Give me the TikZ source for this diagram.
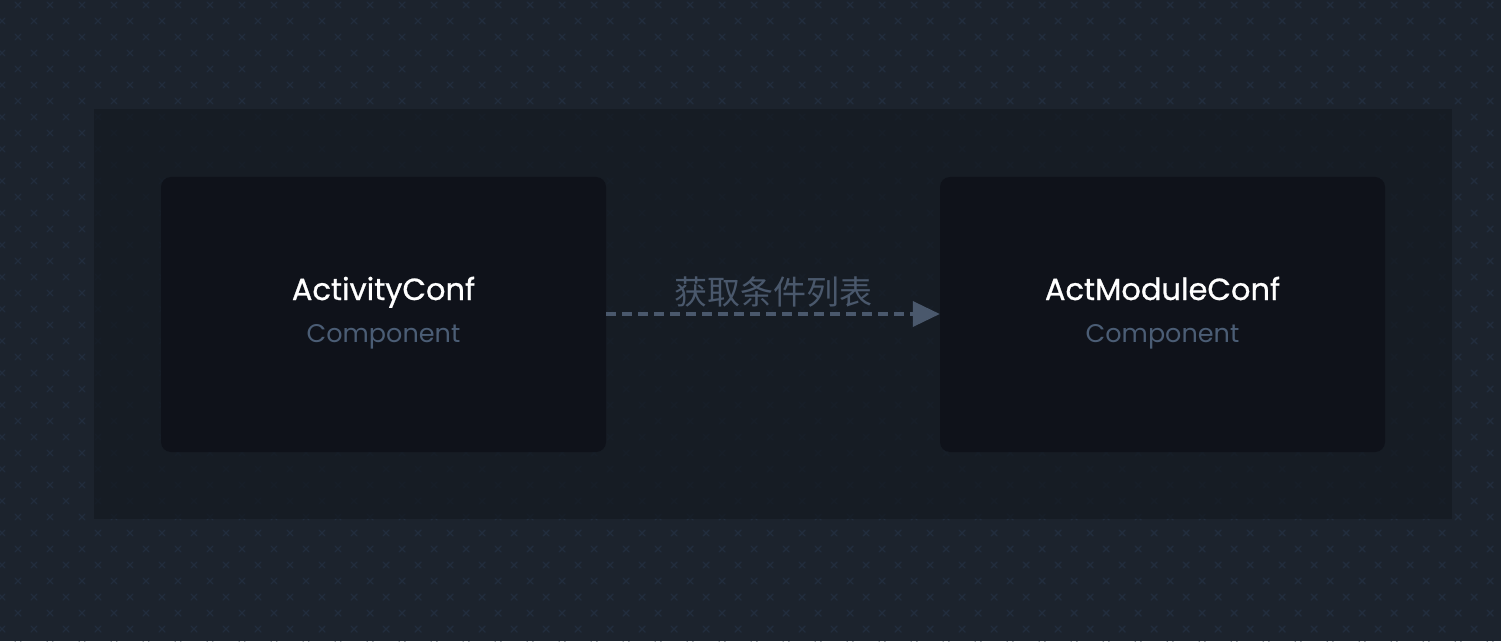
\documentclass[tikz,border=0pt]{standalone}
\usepackage{fontspec}
\setmainfont{Poppins}
\newfontfamily\cjk{Noto Sans CJK SC}
\newfontfamily\titlefont[FakeBold=0.8]{Poppins}
\usetikzlibrary{arrows.meta}
\definecolor{bgc}{HTML}{1C232D}
\definecolor{panelc}{HTML}{141A22}
\definecolor{boxc}{HTML}{0F121A}
\definecolor{markc}{HTML}{222D3D}
\definecolor{subc}{HTML}{4B5D75}
\definecolor{edgec}{HTML}{4A586C}
\tikzset{
  xmark/.style={draw=markc, line width=1.4pt, line cap=round},
  compbox/.style={fill=boxc, rounded corners=10pt, minimum width=445pt, minimum height=275pt, inner sep=0pt},
  titletext/.style={text=white, anchor=base, inner sep=0pt, font=\titlefont\fontsize{30.5}{35}\selectfont},
  subtext/.style={text=subc, anchor=base, inner sep=0pt, font=\fontsize{25.5}{29}\selectfont},
  flow/.style={draw=edgec, line width=3.5pt, dash pattern=on 10pt off 6pt, -{Triangle[length=27pt,width=25pt]}},
  flowlabel/.style={text=edgec, anchor=base, inner sep=0pt, font=\cjk\fontsize{33}{37}\selectfont}
}
\begin{document}
\begin{tikzpicture}[x=1pt,y=1pt]
\fill[bgc] (0,0) rectangle (1501,641);
\useasboundingbox (0,0) rectangle (1501,641);
% pattern
\foreach \k in {0,...,40} {
  \pgfmathtruncatemacro{\off}{mod(\k,2)==0 ? 18 : 2}
  \pgfmathsetmacro{\yy}{641-5-16*\k}
  \foreach \j in {0,...,47} {
    \pgfmathsetmacro{\xx}{\off+32*\j}
    \draw[xmark] (\xx-3,\yy-3) -- (\xx+3,\yy+3) (\xx-3,\yy+3) -- (\xx+3,\yy-3);
  }
}
% panel
\fill[panelc, fill opacity=0.75] (94,641-109) rectangle (1452,641-519);
% boxes
\node[compbox] (a) at (383.5,641-314.5) {};
\node[compbox] (b) at (1162.5,641-314.5) {};
\node[titletext] (at) at (383.5,641-300) {ActivityConf};
\node[subtext] (as) at (383.5,641-342) {Component};
\node[titletext] (bt) at (1162.5,641-300) {ActModuleConf};
\node[subtext] (bs) at (1162.5,641-342) {Component};
\coordinate (s) at (a.east |- 0,641-314);
\coordinate (e) at (b.west |- 0,641-314);
\draw[flow] (s) -- (e);
\node[flowlabel] (lbl) at (773,641-304) {获取条件列表};
\end{tikzpicture}
\end{document}
